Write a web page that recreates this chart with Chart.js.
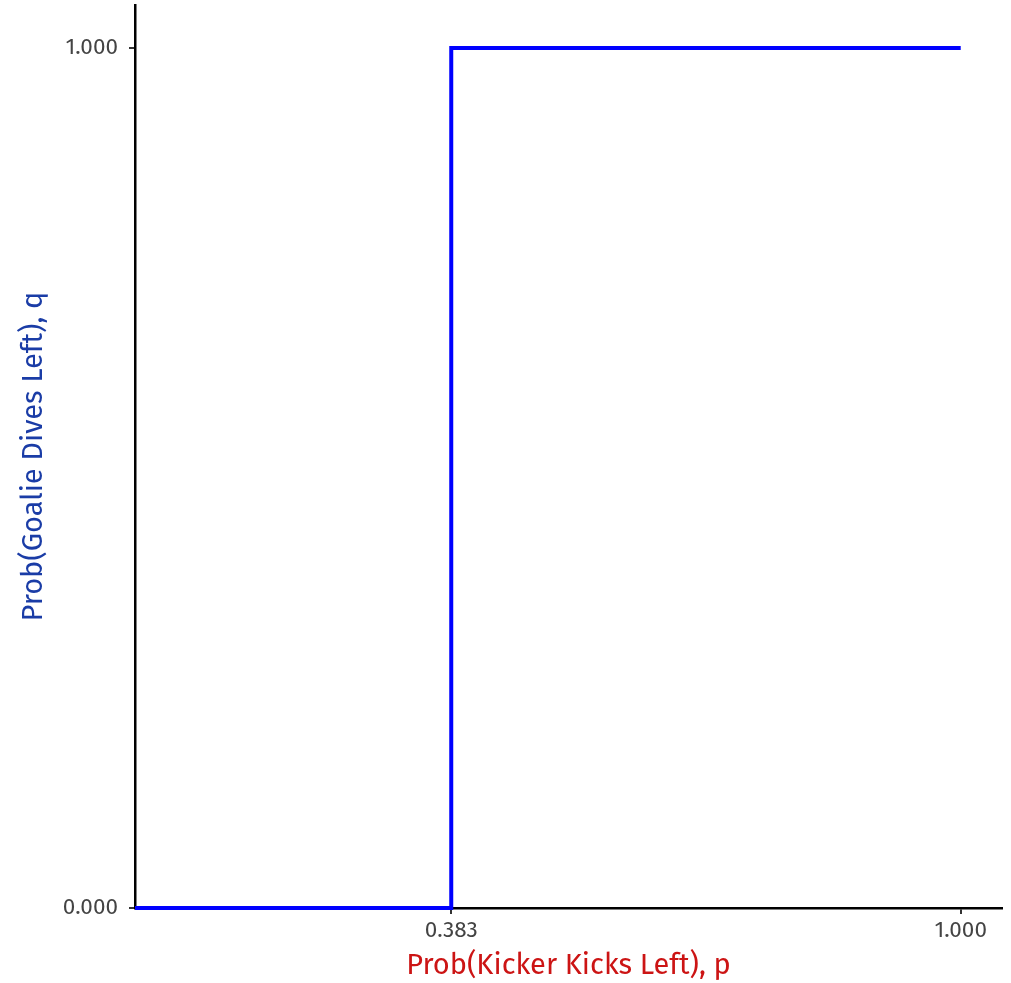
<!DOCTYPE html>
<html>
<head>
<meta charset="utf-8">
<script src="https://cdn.jsdelivr.net/npm/chart.js@4/dist/chart.umd.min.js"></script>
<style>
html,body{margin:0;padding:0;background:#fff;}
#wrap{width:1011px;height:983px;position:relative;}
</style>
</head>
<body>
<div id="wrap"><canvas id="c" width="1011" height="983"></canvas></div>
<script>
const pValues = [0, 0.383, 0.383, 1];
const qValues = [0, 0, 1, 1];
const xTickValues = [0.383, 1];
const yTickValues = [0, 1];
const xTitle = 'Prob(Kicker Kicks Left), p';
const yTitle = 'Prob(Goalie Dives Left), q';

const FONT = "'Fira Sans', Lato, 'Noto Sans', sans-serif";

const points = pValues.map((p, i) => ({x: p, y: qValues[i]}));

new Chart(document.getElementById('c'), {
  type: 'scatter',
  data: {
    datasets: [{
      data: points,
      showLine: true,
      borderColor: '#0000FF',
      backgroundColor: '#0000FF',
      borderWidth: 4,
      pointRadius: 0,
      tension: 0,
      clip: false
    }]
  },
  options: {
    responsive: false,
    animation: false,
    devicePixelRatio: 1,
    layout: {padding: {left: 0, right: 9, top: 5, bottom: 0}},
    plugins: {legend: {display: false}, tooltip: {enabled: false}},
    scales: {
      x: {
        type: 'linear',
        min: 0, max: 1.05,
        z: 1,
        afterBuildTicks: s => { s.ticks = xTickValues.map(v => ({value: v})); },
        afterFit: s => { s.height = 75; s.paddingLeft = 0; s.paddingRight = 0; },
        ticks: {
          callback: v => v.toFixed(3),
          color: '#444444',
          font: {family: FONT, size: 22.5},
          padding: 3,
          maxRotation: 0,
          autoSkip: false
        },
        grid: {drawOnChartArea: false, drawTicks: true, tickLength: 6, color: '#333333', lineWidth: 2},
        border: {display: true, color: '#000000', width: 2.5},
        title: {display: true, text: xTitle, color: '#CC1414', font: {family: FONT, size: 29}, padding: {top: -4, bottom: 0}}
      },
      y: {
        type: 'linear',
        min: 0, max: 1.05,
        z: 1,
        afterBuildTicks: s => { s.ticks = yTickValues.map(v => ({value: v})); },
        afterFit: s => { s.width = 135; s.paddingTop = 0; s.paddingBottom = 0; },
        ticks: {
          callback: v => v.toFixed(3),
          color: '#444444',
          font: {family: FONT, size: 22.5},
          padding: 11,
          autoSkip: false
        },
        grid: {drawOnChartArea: false, drawTicks: true, tickLength: 6, color: '#333333', lineWidth: 2},
        border: {display: true, color: '#000000', width: 2.5},
        title: {display: true, text: yTitle, color: '#1A3CA6', font: {family: FONT, size: 29}, padding: {top: 17, bottom: 0}}
      }
    }
  }
});
</script>
</body>
</html>
